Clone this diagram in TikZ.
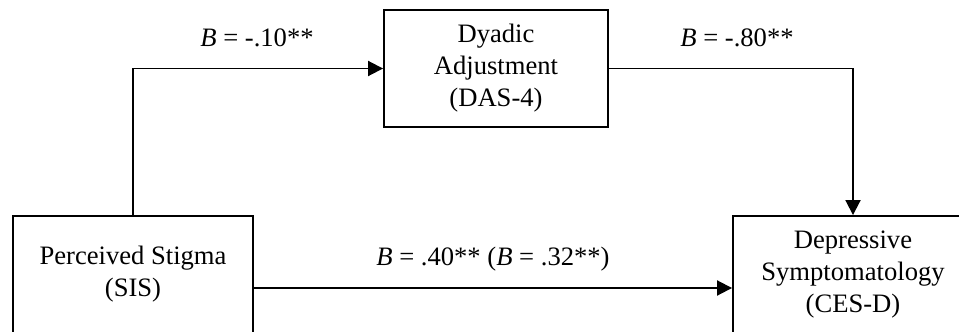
\documentclass[tikz,border=0pt]{standalone}
\usepackage{fontspec}
\setmainfont{Liberation Serif}
\usetikzlibrary{arrows.meta}
\tikzset{
  boxnode/.style={draw, line width=1.9pt, align=center, inner sep=0pt,
    minimum height=117pt, font=\fontsize{26.6}{32}\selectfont},
  lbl/.style={font=\fontsize{26.6}{32}\selectfont, inner sep=0pt},
  conn/.style={line width=1.9pt, -{Triangle[length=15pt,width=15pt]}}
}
\begin{document}
\begin{tikzpicture}[x=1pt,y=-1pt]
\clip (0,0) rectangle (959,332);
\fill[white] (0,0) rectangle (959,332);
\node[boxnode, minimum width=240pt] (sis) at (133,274.5) {Perceived Stigma\\(SIS)};
\node[boxnode, minimum width=224pt] (das) at (496,68.5) {Dyadic\\Adjustment\\(DAS-4)};
\node[boxnode, minimum width=240pt] (ces) at (853,274.5) {Depressive\\Symptomatology\\(CES-D)};
\draw[conn] (sis.north) |- (das.west);
\draw[conn] (das.east) -| (ces.north);
\draw[conn] ([yshift=-13.5pt]sis.east) -- ([yshift=-13.5pt]ces.west);
\node[lbl] (l1) at (257,38) {\textit{B} = -.10**};
\node[lbl] (l2) at (737,38) {\textit{B} = -.80**};
\node[lbl] (l3) at (493,259) {\textit{B} = .40** (\textit{B} = .32**)};
\end{tikzpicture}
\end{document}
